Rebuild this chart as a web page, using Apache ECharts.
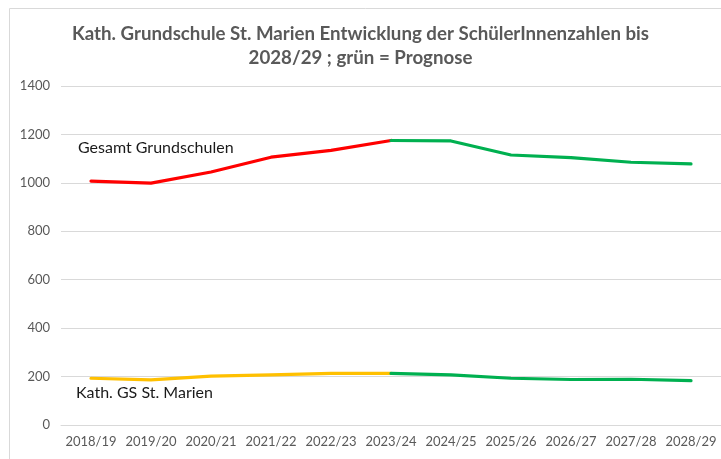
<!DOCTYPE html>
<html><head><meta charset="utf-8">
<script src="https://cdn.jsdelivr.net/npm/echarts@6/dist/echarts.min.js"></script>
<style>html,body{margin:0;padding:0;background:#fff}#c{width:721px;height:459px}</style>
</head><body><div id="c"></div>
<script>
const categories = ['2018/19','2019/20','2020/21','2021/22','2022/23','2023/24','2024/25','2025/26','2026/27','2027/28','2028/29'];
const gesamtIst = [1007, 999, 1045, 1106, 1134, 1175, null, null, null, null, null];
const gesamtPrognose = [null, null, null, null, null, 1175, 1173, 1115, 1104, 1085, 1078];
const marienIst = [193, 186, 202, 207, 213, 213, null, null, null, null, null];
const marienPrognose = [null, null, null, null, null, 213, 207, 193, 188, 189, 183];
const yTicks = [0, 200, 400, 600, 800, 1000, 1200, 1400];
const titleLines = ['Kath. Grundschule St. Marien Entwicklung der SchülerInnenzahlen bis', '2028/29 ; grün = Prognose'];
const labelGesamt = 'Gesamt Grundschulen';
const labelMarien = 'Kath. GS St. Marien';

const FONT = 'Lato, "Open Sans", sans-serif';
const chart = echarts.init(document.getElementById('c'));
function line(data, color, z) {
  return {type:'line', data, symbol:'none', connectNulls:false, z,
    lineStyle:{color, width:3.2, cap:'round', join:'round'}, itemStyle:{color}};
}
chart.setOption({
  animation:false,
  title:{text:titleLines.join('\n'), left:'center', top:17,
    textStyle:{fontFamily:FONT, fontSize:18.7, fontWeight:'bold', color:'#595959', lineHeight:24}},
  grid:{left:61, right:0, top:86, bottom:34},
  xAxis:{type:'category', data:categories, boundaryGap:true,
    axisLine:{show:true, lineStyle:{color:'#d9d9d9'}}, axisTick:{show:false},
    axisLabel:{interval:0, fontFamily:FONT, fontSize:13, color:'#595959', margin:10}},
  yAxis:{type:'value', min:yTicks[0], max:yTicks[yTicks.length-1], interval:200,
    axisLine:{show:false}, axisTick:{show:false},
    splitLine:{lineStyle:{color:'#d9d9d9', width:1}},
    axisLabel:{fontFamily:FONT, fontSize:13, color:'#595959', margin:11, formatter: v => String(v)}},
  series:[
    line(gesamtIst, '#FF0000', 3),
    line(gesamtPrognose, '#00B050', 3),
    line(marienIst, '#FFC000', 3),
    line(marienPrognose, '#00B050', 3)
  ],
  graphic:[
    {type:'rect', left:7, top:6, shape:{width:760, height:500}, silent:true,
      style:{fill:'none', stroke:'#d9d9d9', lineWidth:1}},
    {type:'text', left:78, top:140, style:{text:labelGesamt, font:'16px '+FONT, fill:'#1a1a1a'}},
    {type:'text', left:76, top:385, style:{text:labelMarien, font:'16px '+FONT, fill:'#1a1a1a'}}
  ]
});
</script></body></html>
